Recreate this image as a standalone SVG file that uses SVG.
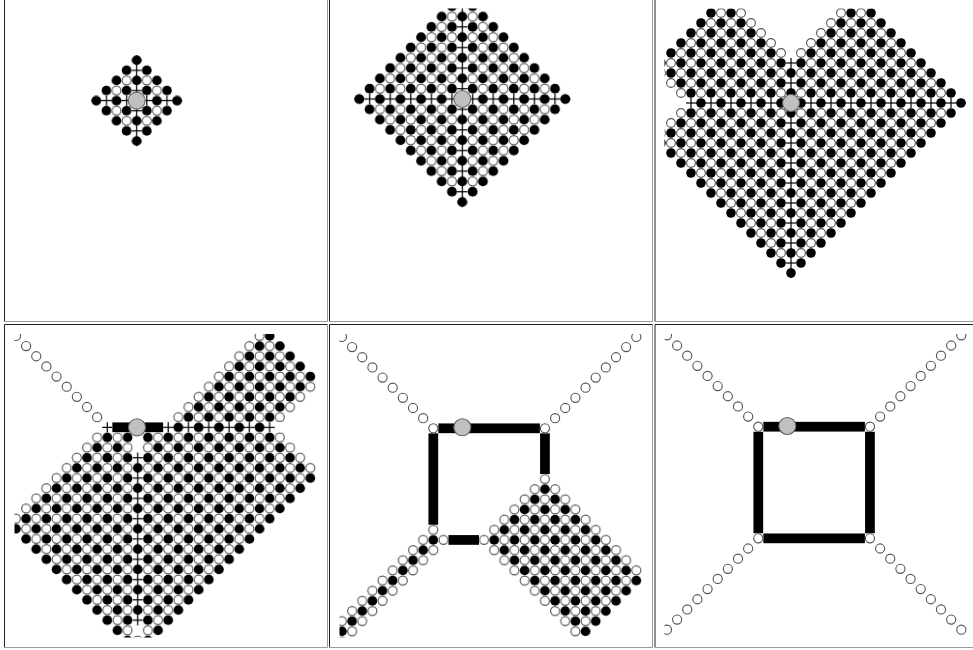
<svg xmlns="http://www.w3.org/2000/svg" width="973" height="650" viewBox="0 0 973 650">
<style>
.bk{fill:#000}
.wt{fill:#fff;stroke:#555;stroke-width:1.1}
.ln{stroke:#000;stroke-width:1.2;fill:none}
.bar{fill:#000}
.gray{fill:#c0c0c0;stroke:#666;stroke-width:1.1}
.bd1{fill:none;stroke:#222;stroke-width:1}
.bd2{fill:none;stroke:#9a9a9a;stroke-width:1}
</style>
<defs>
<pattern id="bE" patternUnits="userSpaceOnUse" x="-5" y="-5" width="20" height="20"><circle class="bk" cx="5" cy="5" r="4.8"/><circle class="bk" cx="15" cy="15" r="4.8"/></pattern>
<pattern id="bO" patternUnits="userSpaceOnUse" x="-5" y="-5" width="20" height="20"><circle class="bk" cx="15" cy="5" r="4.8"/><circle class="bk" cx="5" cy="15" r="4.8"/></pattern>
<pattern id="wE" patternUnits="userSpaceOnUse" x="-5" y="-5" width="20" height="20"><circle class="wt" cx="5" cy="5" r="4.4"/><circle class="wt" cx="15" cy="15" r="4.4"/></pattern>
<pattern id="wO" patternUnits="userSpaceOnUse" x="-5" y="-5" width="20" height="20"><circle class="wt" cx="15" cy="5" r="4.4"/><circle class="wt" cx="5" cy="15" r="4.4"/></pattern>
<pattern id="hE" patternUnits="userSpaceOnUse" x="-5" y="-5" width="20" height="10"><rect width="20" height="10" fill="#fff"/><line class="ln" x1="0" y1="5" x2="20" y2="5"/><line class="ln" x1="15" y1="0" x2="15" y2="10"/><circle class="bk" cx="5" cy="5" r="4.8"/></pattern>
<pattern id="hO" patternUnits="userSpaceOnUse" x="-5" y="-5" width="20" height="10"><rect width="20" height="10" fill="#fff"/><line class="ln" x1="0" y1="5" x2="20" y2="5"/><line class="ln" x1="5" y1="0" x2="5" y2="10"/><circle class="bk" cx="15" cy="5" r="4.8"/></pattern>
<pattern id="vE" patternUnits="userSpaceOnUse" x="-5" y="-5" width="10" height="20"><rect width="10" height="20" fill="#fff"/><line class="ln" x1="5" y1="0" x2="5" y2="20"/><line class="ln" x1="0" y1="15" x2="10" y2="15"/><circle class="bk" cx="5" cy="5" r="4.8"/></pattern>
<pattern id="vO" patternUnits="userSpaceOnUse" x="-5" y="-5" width="10" height="20"><rect width="10" height="20" fill="#fff"/><line class="ln" x1="5" y1="0" x2="5" y2="20"/><line class="ln" x1="0" y1="5" x2="10" y2="5"/><circle class="bk" cx="5" cy="15" r="4.8"/></pattern>
<clipPath id="c1"><rect x="14.5" y="8.5" width="303" height="303.5"/></clipPath>
<clipPath id="c2"><rect x="339.5" y="8.5" width="303" height="303.5"/></clipPath>
<clipPath id="c3"><rect x="664.5" y="8.5" width="303.5" height="303.5"/></clipPath>
<clipPath id="c4"><rect x="14.5" y="334" width="303" height="303.5"/></clipPath>
<clipPath id="c5"><rect x="339.5" y="334" width="303" height="303.5"/></clipPath>
<clipPath id="c6"><rect x="664.5" y="334" width="303.5" height="303.5"/></clipPath>
<clipPath id="lowH"><rect x="-500" y="5" width="1000" height="1000"/></clipPath>
<clipPath id="upH"><rect x="-500" y="-1005" width="1000" height="1000"/></clipPath>
</defs>
<rect width="973" height="650" fill="#fff"/>

<g id="borders">
<path class="bd1" d="M4.5,321.5V-1.5H327.5M329.5,321.5V-1.5H652.5M655,321.5V-1.5H978M4.5,647.5V324.5H327.5M329.5,647.5V324.5H652.5M655,647.5V324.5H978"/>
<path class="bd2" d="M327.5,-1.5V321.5H4.5M652.5,-1.5V321.5H329.5M978,-1.5V321.5H655M327.5,324.5V647.5H4.5M652.5,324.5V647.5H329.5M978,324.5V647.5H655"/>
</g>

<g id="panel1" clip-path="url(#c1)">
<g transform="translate(136.7,100.6) scale(1.01)">
<polygon points="50,0 0,50 -50,0 0,-50" fill="url(#bE)"/>
<polygon points="40,0 0,40 -40,0 0,-40" fill="url(#wO)"/>
<rect x="-45" y="-5" width="90" height="10" fill="url(#hE)"/>
<rect x="-5" y="-45" width="10" height="90" fill="url(#vE)"/>
<circle class="gray" cx="0" cy="0" r="8.4"/>
</g>
</g>

<g id="panel2" clip-path="url(#c2)">
<g transform="translate(462.3,99) scale(1.03)">
<polygon points="110,0 0,110 -110,0 0,-110" fill="url(#bE)"/>
<polygon points="100,0 0,100 -100,0 0,-100" fill="url(#wO)"/>
<rect x="-105" y="-5" width="210" height="10" fill="url(#hE)"/>
<rect x="-5" y="-105" width="10" height="210" fill="url(#vE)"/>
<circle class="gray" cx="0" cy="0" r="8.2"/>
</g>
</g>

<g id="panel3" clip-path="url(#c3)">
<g transform="translate(791,103)">
<polygon points="-110,70 0,180 180,0 70,-110" fill="url(#bO)"/>
<polygon points="-140,40 -110,70 0,-40 -30,-70" fill="url(#bO)"/>
<polygon points="-140,-40 -100,0 -30,-70 -70,-110" fill="url(#bO)"/>
<polygon points="-110,60 0,170 170,0 60,-110" fill="url(#wE)"/>
<polygon points="-140,30 -110,60 0,-50 -30,-80" fill="url(#wE)"/>
<polygon points="-140,-30 -110,0 -30,-80 -60,-110" fill="url(#wE)"/>
<rect x="-105" y="-5" width="280" height="10" fill="url(#hO)"/>
<rect x="-5" y="-45" width="10" height="220" fill="url(#vO)"/>
<circle class="gray" cx="0" cy="0" r="8.5"/>
</g>
</g>

<g id="panel4" clip-path="url(#c4)">
<g transform="translate(107.3,427.3) scale(1.015)">
<g clip-path="url(#lowH)">
<polygon points="-100,100 30,230 210,50 80,-80" fill="url(#bO)"/>
<polygon points="-100,90 30,220 210,40 80,-90" fill="url(#wE)"/>
</g>
<g clip-path="url(#upH)">
<polygon points="30,30 80,80 210,-50 160,-100" fill="url(#bO)"/>
<polygon points="25,25 85,85 210,-40 150,-100" fill="url(#wE)"/>
</g>
<rect x="55" y="-5" width="110" height="10" fill="url(#hO)"/>
<rect x="25" y="5" width="10" height="200" fill="#fff"/>
<rect x="25" y="25" width="10" height="170" fill="url(#vE)"/>
<path class="ln" d="M-5,0H5M0,-5V5"/>
<rect class="bar" x="5" y="-4.8" width="50" height="9.6"/>
<g id="p4chain">
<circle class="wt" cx="-10" cy="-10" r="4.5"/><circle class="wt" cx="-20" cy="-20" r="4.5"/><circle class="wt" cx="-30" cy="-30" r="4.5"/><circle class="wt" cx="-40" cy="-40" r="4.5"/><circle class="wt" cx="-50" cy="-50" r="4.5"/><circle class="wt" cx="-60" cy="-60" r="4.5"/><circle class="wt" cx="-70" cy="-70" r="4.5"/><circle class="wt" cx="-80" cy="-80" r="4.5"/><circle class="wt" cx="-90" cy="-90" r="4.5"/>
</g>
<circle class="gray" cx="29.3" cy="0" r="8.4"/>
</g>
</g>

<g id="panel5" clip-path="url(#c5)">
<g transform="translate(433.3,428.3) scale(1.015)">
<polygon points="-150,250 -140,260 10,110 0,100" fill="url(#bO)"/>
<polygon points="-155,245 -135,265 20,110 0,90" fill="url(#wE)"/>
<polygon points="50,110 150,210 210,150 110,50" fill="url(#bO)"/>
<polygon points="40,110 140,210 210,140 110,40" fill="url(#wE)"/>
<rect class="bar" x="5" y="-4.8" width="100" height="9.6"/>
<rect class="bar" x="-4.8" y="5" width="9.6" height="90"/>
<rect class="bar" x="105.2" y="5" width="9.6" height="40"/>
<rect class="bar" x="15" y="105.2" width="30" height="9.6"/>
<circle class="wt" cx="0" cy="0" r="4.5"/><circle class="wt" cx="110" cy="0" r="4.5"/>
<g id="p5chains">
<circle class="wt" cx="-10" cy="-10" r="4.5"/><circle class="wt" cx="-20" cy="-20" r="4.5"/><circle class="wt" cx="-30" cy="-30" r="4.5"/><circle class="wt" cx="-40" cy="-40" r="4.5"/><circle class="wt" cx="-50" cy="-50" r="4.5"/><circle class="wt" cx="-60" cy="-60" r="4.5"/><circle class="wt" cx="-70" cy="-70" r="4.5"/><circle class="wt" cx="-80" cy="-80" r="4.5"/><circle class="wt" cx="-90" cy="-90" r="4.5"/>
<circle class="wt" cx="120" cy="-10" r="4.5"/><circle class="wt" cx="130" cy="-20" r="4.5"/><circle class="wt" cx="140" cy="-30" r="4.5"/><circle class="wt" cx="150" cy="-40" r="4.5"/><circle class="wt" cx="160" cy="-50" r="4.5"/><circle class="wt" cx="170" cy="-60" r="4.5"/><circle class="wt" cx="180" cy="-70" r="4.5"/><circle class="wt" cx="190" cy="-80" r="4.5"/><circle class="wt" cx="200" cy="-90" r="4.5"/>
</g>
<circle class="gray" cx="28.6" cy="-1" r="8.4"/>
</g>
</g>

<g id="panel6" clip-path="url(#c6)">
<g transform="translate(758.3,426.7) scale(1.015)">
<rect class="bar" x="5" y="-4.8" width="100" height="9.6"/>
<rect class="bar" x="5" y="105.2" width="100" height="9.6"/>
<rect class="bar" x="-4.8" y="5" width="9.6" height="100"/>
<rect class="bar" x="105.2" y="5" width="9.6" height="100"/>
<circle class="wt" cx="0" cy="0" r="4.5"/><circle class="wt" cx="110" cy="0" r="4.5"/><circle class="wt" cx="0" cy="110" r="4.5"/><circle class="wt" cx="110" cy="110" r="4.5"/>
<g id="p6chains">
<circle class="wt" cx="-10" cy="-10" r="4.5"/><circle class="wt" cx="-20" cy="-20" r="4.5"/><circle class="wt" cx="-30" cy="-30" r="4.5"/><circle class="wt" cx="-40" cy="-40" r="4.5"/><circle class="wt" cx="-50" cy="-50" r="4.5"/><circle class="wt" cx="-60" cy="-60" r="4.5"/><circle class="wt" cx="-70" cy="-70" r="4.5"/><circle class="wt" cx="-80" cy="-80" r="4.5"/><circle class="wt" cx="-90" cy="-90" r="4.5"/>
<circle class="wt" cx="120" cy="-10" r="4.5"/><circle class="wt" cx="130" cy="-20" r="4.5"/><circle class="wt" cx="140" cy="-30" r="4.5"/><circle class="wt" cx="150" cy="-40" r="4.5"/><circle class="wt" cx="160" cy="-50" r="4.5"/><circle class="wt" cx="170" cy="-60" r="4.5"/><circle class="wt" cx="180" cy="-70" r="4.5"/><circle class="wt" cx="190" cy="-80" r="4.5"/><circle class="wt" cx="200" cy="-90" r="4.5"/>
<circle class="wt" cx="-10" cy="120" r="4.5"/><circle class="wt" cx="-20" cy="130" r="4.5"/><circle class="wt" cx="-30" cy="140" r="4.5"/><circle class="wt" cx="-40" cy="150" r="4.5"/><circle class="wt" cx="-50" cy="160" r="4.5"/><circle class="wt" cx="-60" cy="170" r="4.5"/><circle class="wt" cx="-70" cy="180" r="4.5"/><circle class="wt" cx="-80" cy="190" r="4.5"/><circle class="wt" cx="-90" cy="200" r="4.5"/>
<circle class="wt" cx="120" cy="120" r="4.5"/><circle class="wt" cx="130" cy="130" r="4.5"/><circle class="wt" cx="140" cy="140" r="4.5"/><circle class="wt" cx="150" cy="150" r="4.5"/><circle class="wt" cx="160" cy="160" r="4.5"/><circle class="wt" cx="170" cy="170" r="4.5"/><circle class="wt" cx="180" cy="180" r="4.5"/><circle class="wt" cx="190" cy="190" r="4.5"/><circle class="wt" cx="200" cy="200" r="4.5"/>
</g>
<circle class="gray" cx="28.6" cy="-0.7" r="8.4"/>
</g>
</g>
</svg>
